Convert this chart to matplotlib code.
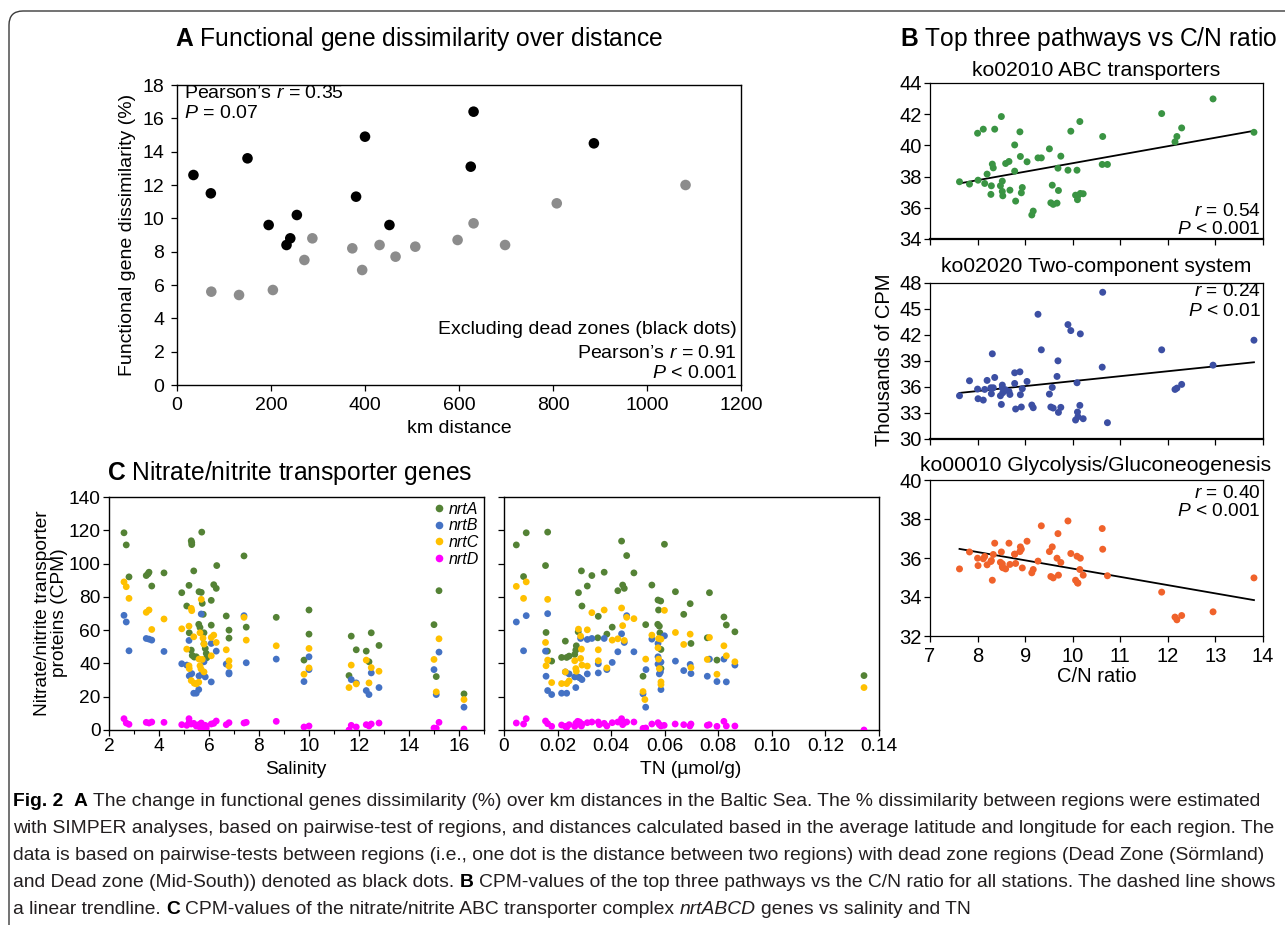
import numpy as np
import matplotlib
matplotlib.use('Agg')
import matplotlib.pyplot as plt
from matplotlib.patches import FancyBboxPatch
from matplotlib.transforms import IdentityTransform
from matplotlib.lines import Line2D

# ---------------- DATA ----------------
# Panel A
dead_km = [35, 72, 150, 195, 233, 241, 255, 381, 400, 452, 625, 631, 887]
dead_diss = [12.6, 11.5, 13.6, 9.6, 8.4, 8.8, 10.2, 11.3, 14.9, 9.6, 13.1, 16.4, 14.5]
other_km = [73, 132, 204, 271, 288, 373, 394, 431, 465, 507, 597, 631, 698, 808, 1082]
other_diss = [5.6, 5.4, 5.7, 7.5, 8.8, 8.2, 6.9, 8.4, 7.7, 8.3, 8.7, 9.7, 8.4, 10.9, 12.0]

# Panel B (shared C/N ratio per station)
cn_ratio = [7.62, 7.83, 8.00, 8.01, 8.12, 8.15, 8.20, 8.28, 8.29, 8.31, 8.33, 8.36, 8.48, 8.50,
            8.52, 8.52, 8.53, 8.59, 8.66, 8.68, 8.78, 8.78, 8.80, 8.89, 8.90, 8.92, 8.94, 9.04,
            9.14, 9.17, 9.27, 9.34, 9.51, 9.54, 9.57, 9.59, 9.67, 9.69, 9.70, 9.75, 9.90, 9.96,
            10.06, 10.09, 10.10, 10.11, 10.15, 10.16, 10.22, 10.62, 10.63, 10.73, 11.87, 12.15,
            12.19, 12.29, 12.95, 13.81]
abc_transporters = [37.67, 37.52, 40.78, 37.77, 41.04, 37.56, 38.16, 36.86, 37.41, 38.80, 38.56,
                    41.04, 37.41, 41.85, 37.71, 37.05, 36.77, 38.84, 38.97, 37.13, 38.35, 40.03,
                    36.43, 40.87, 39.29, 36.96, 37.30, 38.95, 35.54, 35.79, 39.20, 39.20, 39.78,
                    36.32, 37.45, 36.22, 36.30, 38.54, 37.11, 39.31, 38.41, 40.91, 36.81, 38.41,
                    36.52, 36.77, 41.53, 36.92, 36.90, 38.78, 40.57, 38.78, 42.04, 40.23, 40.57,
                    41.12, 42.98, 40.84]
two_component = [34.99, 36.72, 35.76, 34.65, 34.49, 35.72, 36.76, 35.91, 35.22, 39.83, 35.91,
                 37.10, 34.99, 33.99, 36.22, 35.91, 35.34, 35.68, 35.49, 35.14, 37.64, 36.41,
                 33.46, 37.75, 35.11, 33.69, 35.80, 36.64, 33.92, 33.61, 44.39, 40.29, 35.18,
                 33.69, 35.95, 33.57, 37.22, 39.02, 33.07, 33.65, 43.20, 42.51, 32.19, 36.49,
                 33.11, 32.57, 33.88, 42.13, 32.34, 38.29, 46.93, 31.88, 40.29, 35.72, 35.87,
                 36.30, 38.52, 41.40]
glycolysis = [35.44, 36.31, 35.99, 35.61, 35.96, 36.08, 35.65, 35.82, 35.87, 34.86, 36.18, 36.76,
              35.78, 36.31, 35.55, 35.70, 35.50, 35.44, 36.76, 35.67, 36.19, 36.20, 35.72, 36.33,
              36.57, 36.45, 35.49, 36.86, 35.24, 35.41, 35.84, 37.65, 36.33, 35.05, 36.57, 34.98,
              35.99, 37.25, 35.12, 35.77, 37.90, 36.23, 34.86, 36.09, 34.73, 34.71, 35.41, 35.99,
              35.12, 37.51, 36.45, 35.09, 34.25, 32.97, 32.83, 33.05, 33.24, 34.98]

# Panel C - salinity
sal_nrtA_x = [2.60, 2.69, 2.80, 3.49, 3.56, 3.60, 3.71, 4.20, 4.91, 5.11, 5.20, 5.29, 5.31, 5.31, 5.39,
              5.21, 5.29, 5.33, 5.41, 5.49, 5.59, 5.64, 5.60, 5.69, 5.71, 5.73, 5.77, 5.80, 5.80, 5.85,
              5.89, 5.91, 6.09, 6.09, 6.19, 6.29, 6.31, 6.69, 6.80, 6.80, 7.40, 7.49, 8.69, 9.80, 10.0,
              10.0, 11.60, 11.69, 11.89, 12.29, 12.40, 12.49, 12.80, 15.00, 15.09, 15.20, 16.20]
sal_nrtA_y = [118.5, 111.2, 92.0, 92.8, 93.8, 94.8, 86.5, 94.4, 82.5, 74.5, 86.9, 113.7, 112.6, 111.4,
              95.6, 58.4, 48.0, 44.8, 43.8, 44.0, 63.5, 61.6, 83.1, 82.7, 118.9, 76.1, 69.5, 58.4, 51.8,
              49.0, 46.0, 43.4, 77.9, 63.0, 87.3, 85.1, 98.8, 68.5, 60.0, 55.2, 104.6, 61.8, 67.7, 42.0,
              72.1, 57.6, 32.7, 56.4, 48.2, 47.4, 41.0, 58.4, 50.8, 63.3, 32.1, 83.7, 21.7]
sal_nrtB_x = [2.60, 2.69, 2.80, 3.49, 3.60, 3.71, 4.20, 4.91, 5.11, 5.20, 5.21, 5.31, 5.39, 5.49, 5.59,
              5.60, 5.69, 5.73, 5.80, 5.85, 6.09, 6.09, 6.29, 6.69, 6.80, 6.80, 7.40, 7.49, 8.69, 9.80,
              10.0, 10.0, 11.69, 11.89, 12.29, 12.40, 12.49, 12.80, 15.00, 15.09, 15.20, 16.20]
sal_nrtB_y = [68.9, 64.9, 47.6, 55.0, 54.6, 54.0, 47.2, 39.8, 39.0, 53.8, 32.5, 33.9, 22.1, 22.1, 24.3,
              32.5, 69.7, 33.9, 41.0, 31.9, 28.9, 52.0, 47.4, 39.6, 34.5, 33.7, 68.7, 40.4, 42.6, 29.1,
              44.0, 36.3, 30.3, 28.3, 23.7, 21.3, 34.3, 25.5, 36.3, 21.3, 46.8, 13.7]
sal_nrtC_x = [2.60, 2.69, 2.80, 3.49, 3.60, 3.71, 4.20, 4.91, 5.11, 5.20, 5.20, 5.21, 5.29, 5.31, 5.29,
              5.39, 5.41, 5.49, 5.59, 5.64, 5.69, 5.60, 5.64, 5.68, 5.73, 5.76, 5.80, 5.80, 6.09, 6.09,
              6.19, 6.29, 6.69, 6.80, 6.80, 7.40, 7.49, 8.69, 9.80, 10.0, 10.0, 11.60, 11.69, 11.89,
              12.29, 12.40, 12.49, 12.80, 15.00, 15.09, 15.20, 16.20]
sal_nrtC_y = [89.0, 86.1, 79.1, 70.7, 72.1, 60.4, 66.7, 60.8, 48.6, 62.4, 38.6, 36.9, 73.1, 71.7, 29.7,
              56.0, 28.1, 27.7, 28.7, 58.4, 78.5, 42.6, 38.6, 36.7, 42.4, 55.2, 51.6, 34.9, 44.6, 55.6,
              57.0, 52.6, 48.2, 41.6, 38.4, 67.7, 54.0, 50.6, 33.5, 49.0, 37.3, 25.5, 39.0, 27.7, 42.0,
              28.3, 37.5, 35.3, 42.4, 22.9, 54.8, 18.3]
sal_nrtD_x = [2.60, 2.69, 2.80, 3.49, 3.60, 3.71, 4.20, 4.91, 5.11, 5.20, 5.21, 5.29, 5.39, 5.49, 5.59,
              5.64, 5.69, 5.73, 5.80, 5.85, 5.89, 6.09, 6.19, 6.29, 6.69, 6.80, 7.40, 7.49, 8.69, 9.80,
              10.0, 11.60, 11.69, 11.89, 12.29, 12.40, 12.49, 12.80, 15.00, 15.09, 15.20, 16.20]
sal_nrtD_y = [6.8, 4.2, 3.4, 4.6, 4.2, 4.8, 4.6, 3.2, 2.8, 6.8, 4.8, 3.6, 4.0, 2.4, 3.2, 1.6, 4.2, 1.2,
              2.4, 2.8, 1.2, 3.6, 4.0, 5.4, 3.2, 4.4, 4.2, 4.6, 5.2, 1.8, 2.4, 0.0, 2.8, 1.8, 3.2, 2.4,
              3.6, 4.2, 1.2, 1.0, 4.6, 0.6]

# Panel C - TN
tn_nrtA_x = [0.0046, 0.0073, 0.0083, 0.0155, 0.0163, 0.0157, 0.0162, 0.0178, 0.0215, 0.0229, 0.0234,
             0.0243, 0.0264, 0.0268, 0.0270, 0.0278, 0.0289, 0.0291, 0.0277, 0.0311, 0.0328, 0.0352,
             0.0374, 0.0350, 0.0384, 0.0404, 0.0425, 0.0439, 0.0443, 0.0449, 0.0458, 0.0485, 0.0519,
             0.0529, 0.0552, 0.0575, 0.0585, 0.0599, 0.0577, 0.0574, 0.0580, 0.0582, 0.0586, 0.0586,
             0.0640, 0.0671, 0.0695, 0.0698, 0.0759, 0.0767, 0.0795, 0.0821, 0.0830, 0.0862, 0.1344]
tn_nrtA_y = [111.2, 92.2, 118.5, 98.8, 118.9, 58.6, 47.4, 41.4, 43.6, 53.4, 43.6, 44.4, 45.4, 48.0,
             50.6, 82.5, 95.6, 74.5, 59.0, 86.5, 92.8, 68.3, 94.8, 55.4, 57.6, 61.8, 83.7, 113.5, 87.1,
             85.1, 104.8, 94.4, 32.3, 63.3, 87.1, 78.1, 77.5, 111.6, 72.1, 63.5, 62.4, 58.4, 48.4, 36.9,
             83.1, 69.5, 75.9, 52.0, 55.4, 82.5, 42.0, 67.9, 63.1, 59.0, 32.7]
tn_nrtB_x = [0.0046, 0.0073, 0.0083, 0.0155, 0.0157, 0.0163, 0.0163, 0.0178, 0.0215, 0.0234, 0.0229,
             0.0243, 0.0264, 0.0268, 0.0277, 0.0283, 0.0291, 0.0286, 0.0311, 0.0311, 0.0328, 0.0352,
             0.0352, 0.0374, 0.0384, 0.0404, 0.0425, 0.0439, 0.0449, 0.0458, 0.0485, 0.0519, 0.0529,
             0.0530, 0.0552, 0.0575, 0.0575, 0.0575, 0.0580, 0.0584, 0.0586, 0.0586, 0.0599, 0.0640,
             0.0671, 0.0695, 0.0698, 0.0759, 0.0767, 0.0795, 0.0821, 0.0830, 0.0862]
tn_nrtB_y = [64.9, 47.6, 68.7, 47.4, 32.3, 69.9, 23.7, 21.3, 22.1, 22.1, 34.9, 33.7, 31.9, 25.5, 31.9,
             31.3, 30.3, 55.0, 54.4, 33.7, 55.0, 39.8, 34.3, 55.0, 36.3, 40.6, 47.0, 57.8, 52.6, 68.7,
             47.0, 21.7, 13.7, 36.3, 54.6, 52.0, 44.0, 39.6, 33.7, 34.9, 40.8, 24.3, 56.6, 41.4, 35.7,
             39.4, 33.9, 32.3, 42.6, 29.1, 42.6, 28.9, 39.0]
tn_nrtC_x = [0.0046, 0.0073, 0.0083, 0.0155, 0.0157, 0.0163, 0.0163, 0.0178, 0.0215, 0.0229, 0.0234,
             0.0243, 0.0264, 0.0268, 0.0270, 0.0278, 0.0286, 0.0289, 0.0286, 0.0291, 0.0311, 0.0311,
             0.0328, 0.0352, 0.0352, 0.0374, 0.0384, 0.0404, 0.0425, 0.0439, 0.0443, 0.0449, 0.0458,
             0.0485, 0.0519, 0.0526, 0.0529, 0.0552, 0.0575, 0.0577, 0.0577, 0.0580, 0.0586, 0.0586,
             0.0586, 0.0599, 0.0640, 0.0671, 0.0695, 0.0698, 0.0759, 0.0767, 0.0795, 0.0821, 0.0830,
             0.0862, 0.1344]
tn_nrtC_y = [86.3, 79.1, 89.0, 52.6, 38.6, 78.5, 42.0, 28.5, 27.9, 34.9, 27.9, 29.5, 41.6, 36.9, 35.3,
             60.6, 56.4, 48.6, 43.0, 39.0, 60.2, 38.4, 70.5, 48.2, 41.6, 72.1, 37.3, 54.0, 54.8, 73.3,
             62.7, 53.8, 67.7, 66.9, 23.1, 18.3, 42.6, 57.0, 49.4, 55.0, 42.6, 36.9, 54.6, 28.9, 27.3,
             71.9, 58.6, 51.4, 57.6, 37.5, 42.4, 55.6, 33.5, 50.6, 44.6, 41.0, 25.5]
tn_nrtD_x = [0.0046, 0.0073, 0.0083, 0.0155, 0.0163, 0.0178, 0.0215, 0.0229, 0.0234, 0.0243, 0.0264,
             0.0268, 0.0275, 0.0277, 0.0282, 0.0289, 0.0291, 0.0311, 0.0328, 0.0352, 0.0356, 0.0374,
             0.0384, 0.0404, 0.0425, 0.0439, 0.0443, 0.0449, 0.0458, 0.0485, 0.0519, 0.0526, 0.0529,
             0.0552, 0.0575, 0.0580, 0.0586, 0.0598, 0.0639, 0.0671, 0.0694, 0.0698, 0.0759, 0.0766,
             0.0795, 0.0821, 0.0830, 0.0862, 0.1344]
tn_nrtD_y = [4.2, 3.6, 6.8, 5.4, 3.8, 2.2, 3.0, 2.2, 1.6, 3.2, 2.2, 4.0, 5.2, 3.6, 4.8, 2.4, 3.6, 4.4,
             4.8, 4.8, 3.2, 4.0, 2.4, 4.4, 4.8, 6.8, 3.2, 4.4, 4.8, 4.8, 1.0, 0.8, 1.2, 3.6, 4.4, 3.2,
             2.4, 2.8, 3.6, 3.2, 2.4, 3.6, 2.8, 3.2, 2.2, 5.2, 2.4, 2.4, 0.0]

gene_labels = ['nrtA', 'nrtB', 'nrtC', 'nrtD']
tn_ticks = [0, 0.02, 0.04, 0.06, 0.08, 0.10, 0.12, 0.14]
tn_ticklabels = ['0', '0.02', '0.04', '0.06', '0.08', '0.10', '0.12', '0.14']

caption_lines = [
    [("Fig. 2", "bold", "normal"), ("  A", "bold", "normal"),
     (" The change in functional genes dissimilarity (%) over km distances in the Baltic Sea. The % dissimilarity between regions were estimated", "normal", "normal")],
    [("with SIMPER analyses, based on pairwise-test of regions, and distances calculated based in the average latitude and longitude for each region. The", "normal", "normal")],
    [("data is based on pairwise-tests between regions (i.e., one dot is the distance between two regions) with dead zone regions (Dead Zone (Sörmland)", "normal", "normal")],
    [("and Dead zone (Mid-South)) denoted as black dots.", "normal", "normal"), (" B", "bold", "normal"),
     (" CPM-values of the top three pathways vs the C/N ratio for all stations. The dashed line shows", "normal", "normal")],
    [("a linear trendline.", "normal", "normal"), (" C", "bold", "normal"),
     (" CPM-values of the nitrate/nitrite ABC transporter complex", "normal", "normal"),
     (" nrtABCD", "normal", "italic"), (" genes vs salinity and TN", "normal", "normal")],
]

# ---------------- STYLE ----------------
W, H = 1285, 925
plt.rcParams['font.family'] = ['Liberation Sans', 'DejaVu Sans']
plt.rcParams['mathtext.fontset'] = 'custom'
plt.rcParams['mathtext.rm'] = 'Liberation Sans'
plt.rcParams['mathtext.it'] = 'Liberation Sans:italic'
plt.rcParams['mathtext.bf'] = 'Liberation Sans:bold'
plt.rcParams['xtick.direction'] = 'out'
plt.rcParams['ytick.direction'] = 'out'

fig = plt.figure(figsize=(W / 100, H / 100), dpi=100)
fig.patch.set_facecolor('white')


def rect(l, t, r, b):
    return [l / W, 1 - b / H, (r - l) / W, (b - t) / H]


def fx(x):
    return x / W


def fy(y):
    return 1 - y / H


def style_axes(ax, fs=12.5, lw=1.0, pad=2):
    for s in ax.spines.values():
        s.set_linewidth(lw)
        s.set_color('black')
    ax.tick_params(axis='both', which='major', length=4, width=0.9, labelsize=fs, pad=pad, colors='black')
    ax.tick_params(axis='both', which='minor', length=3, width=0.8)


# outer rounded frame
frame = FancyBboxPatch((9, -30), 1320, H - 11 + 30, boxstyle='round,pad=0,rounding_size=14',
                       transform=IdentityTransform(), fill=False, ec='#3a3a3a', lw=1.0)
fig.add_artist(frame)

TA = 14          # panel A text
TB = 14.5        # panel B tick/label text
TC = 13.8        # panel C text
TTL = 17.7       # panel titles

# ---------------- PANEL A ----------------
axA = fig.add_axes(rect(177, 85, 741, 385))
axA.scatter(other_km, other_diss, s=58, color='#8c8c8c', edgecolors='none', zorder=3)
axA.scatter(dead_km, dead_diss, s=58, color='black', edgecolors='none', zorder=3)
axA.set_xlim(0, 1200)
axA.set_ylim(0, 18)
axA.set_xticks(np.arange(0, 1201, 200))
axA.set_yticks(np.arange(0, 19, 2))
style_axes(axA, fs=TA, pad=5)
axA.set_xlabel('km distance', fontsize=TA, labelpad=4)
axA.set_ylabel('Functional gene dissimilarity (%)', fontsize=TA, labelpad=5)

fig.text(fx(184), fy(94), r'Pearson’s $\mathit{r}$ = 0.35', fontsize=TA, ha='left', va='center')
fig.text(fx(184), fy(113), r'$\mathit{P}$ = 0.07', fontsize=TA, ha='left', va='center')
fig.text(fx(737), fy(330), 'Excluding dead zones (black dots)', fontsize=TA, ha='right', va='center')
fig.text(fx(737), fy(354), r'Pearson’s $\mathit{r}$ = 0.91', fontsize=TA, ha='right', va='center')
fig.text(fx(737), fy(373), r'$\mathit{P}$ < 0.001', fontsize=TA, ha='right', va='center')

fig.text(fx(175), fy(39), r'$\mathbf{A}$ Functional gene dissimilarity over distance',
         fontsize=TTL, ha='left', va='center')

# ---------------- PANEL B ----------------
b_specs = [
    (rect(930, 83, 1263, 239), abc_transporters, '#3a9443', (34, 44), np.arange(34, 45, 2),
     'ko02010 ABC transporters', 70, ('$\\mathit{r}$ = 0.54', '$\\mathit{P}$ < 0.001'), (211, 230)),
    (rect(930, 283, 1263, 439), two_component, '#3c4fa3', (30, 48), np.arange(30, 49, 3),
     'ko02020 Two-component system', 267, ('$\\mathit{r}$ = 0.24', '$\\mathit{P}$ < 0.01'), (291, 311)),
    (rect(930, 480, 1263, 636), glycolysis, '#f0622b', (32, 40), np.arange(32, 41, 2),
     'ko00010 Glycolysis/Gluconeogenesis', 466, ('$\\mathit{r}$ = 0.40', '$\\mathit{P}$ < 0.001'), (493, 512)),
]
for i, (r_, vals, col, yl, yt, ttl, ty, stats, sy) in enumerate(b_specs):
    ax = fig.add_axes(r_)
    ax.scatter(cn_ratio, vals, s=25, color=col, edgecolors='none', zorder=3)
    k, c = np.polyfit(cn_ratio, vals, 1)
    xx = np.array([min(cn_ratio), max(cn_ratio)])
    ax.plot(xx, k * xx + c, color='black', lw=1.3, zorder=2)
    ax.set_xlim(7, 14)
    ax.set_ylim(*yl)
    ax.set_yticks(yt)
    ax.set_xticks(np.arange(7, 15, 1))
    style_axes(ax, fs=TB, lw=0.9)
    ax.tick_params(axis='x', pad=4)
    if i < 2:
        ax.set_xticklabels([])
        ax.spines['bottom'].set_linewidth(1.6)
    else:
        ax.set_xlabel('C/N ratio', fontsize=TB, labelpad=1)
    fig.text(fx(1096), fy(ty), ttl, fontsize=15.2, ha='center', va='center')
    fig.text(fx(1261), fy(sy[0]), stats[0], fontsize=13.8, ha='right', va='center')
    fig.text(fx(1261), fy(sy[1]), stats[1], fontsize=13.8, ha='right', va='center')

fig.text(fx(885), fy(360), 'Thousands of CPM', rotation=90, fontsize=TB, ha='center', va='center')
fig.text(fx(900), fy(39), r'$\mathbf{B}$ Top three pathways vs C/N ratio', fontsize=TTL,
         ha='left', va='center')

# ---------------- PANEL C ----------------
gene_colors = ['#548235', '#4472c4', '#ffc000', '#ff00ff']
axC1 = fig.add_axes(rect(109, 497, 484, 730))
axC2 = fig.add_axes(rect(504, 497, 879, 730))
sal_sets = [(sal_nrtA_x, sal_nrtA_y), (sal_nrtB_x, sal_nrtB_y), (sal_nrtC_x, sal_nrtC_y),
            (sal_nrtD_x, sal_nrtD_y)]
tn_sets = [(tn_nrtA_x, tn_nrtA_y), (tn_nrtB_x, tn_nrtB_y), (tn_nrtC_x, tn_nrtC_y),
           (tn_nrtD_x, tn_nrtD_y)]
for (x, y), col in zip(sal_sets, gene_colors):
    axC1.scatter(x, y, s=24, color=col, edgecolors='none', zorder=3)
for (x, y), col in zip(tn_sets, gene_colors):
    axC2.scatter(x, y, s=24, color=col, edgecolors='none', zorder=3)

for ax in (axC1, axC2):
    ax.set_ylim(0, 140)
    ax.set_yticks(np.arange(0, 141, 20))
    style_axes(ax, fs=TC)
axC1.set_xlim(2, 17)
axC1.set_xticks(np.arange(2, 17, 2))
axC1.set_xticks(np.arange(3, 18, 2), minor=True)
axC2.set_xlim(0, 0.14)
axC2.set_xticks(tn_ticks)
axC2.set_xticklabels(tn_ticklabels)
axC2.set_yticklabels([])

fig.text(fx(296), fy(770), 'Salinity', fontsize=TC, ha='center', va='center')
fig.text(fx(691), fy(770), 'TN (µmol/g)', fontsize=TC, ha='center', va='center')
fig.text(fx(51), fy(613), 'Nitrate/nitrite transporter\nproteins (CPM)', rotation=90, fontsize=TC,
         ha='center', va='center', multialignment='center', linespacing=1.05)

handles = [Line2D([], [], ls='none', marker='o', ms=5.5, mfc=c, mec='none') for c in gene_colors]
axC1.legend(handles, gene_labels, loc='upper right', frameon=False, prop={'style': 'italic', 'size': 11.5},
            handletextpad=0.1, labelspacing=0.1, borderaxespad=0.1, handlelength=1.0,
            borderpad=0.2)

fig.text(fx(107), fy(473), r'$\mathbf{C}$ Nitrate/nitrite transporter genes', fontsize=TTL,
         ha='left', va='center')

# ---------------- CAPTION ----------------
renderer = fig.canvas.get_renderer()
CAP_FAM = ['Liberation Sans', 'DejaVu Sans']
CAP_FS = 13.85


def text_width(s, weight, style):
    t = fig.text(0, 0, s, fontsize=CAP_FS, family=CAP_FAM, weight=weight, style=style)
    w = t.get_window_extent(renderer).width
    t.remove()
    return w


space_w = text_width('x x', 'normal', 'normal') - text_width('xx', 'normal', 'normal')
baselines = [806, 833, 860, 887, 914]
for pieces, yb in zip(caption_lines, baselines):
    x = 13
    for txt, wt, st in pieces:
        lead = len(txt) - len(txt.lstrip(' '))
        trail = len(txt) - len(txt.rstrip(' '))
        core = txt.strip(' ')
        x += lead * space_w
        col = 'black' if wt == 'bold' else '#231f20'
        t = fig.text(fx(x), fy(yb), core, fontsize=CAP_FS, family=CAP_FAM, weight=wt, style=st,
                     ha='left', va='baseline', color=col)
        x += t.get_window_extent(renderer).width + trail * space_w

fig.savefig('out.png', dpi=100, facecolor='white')
